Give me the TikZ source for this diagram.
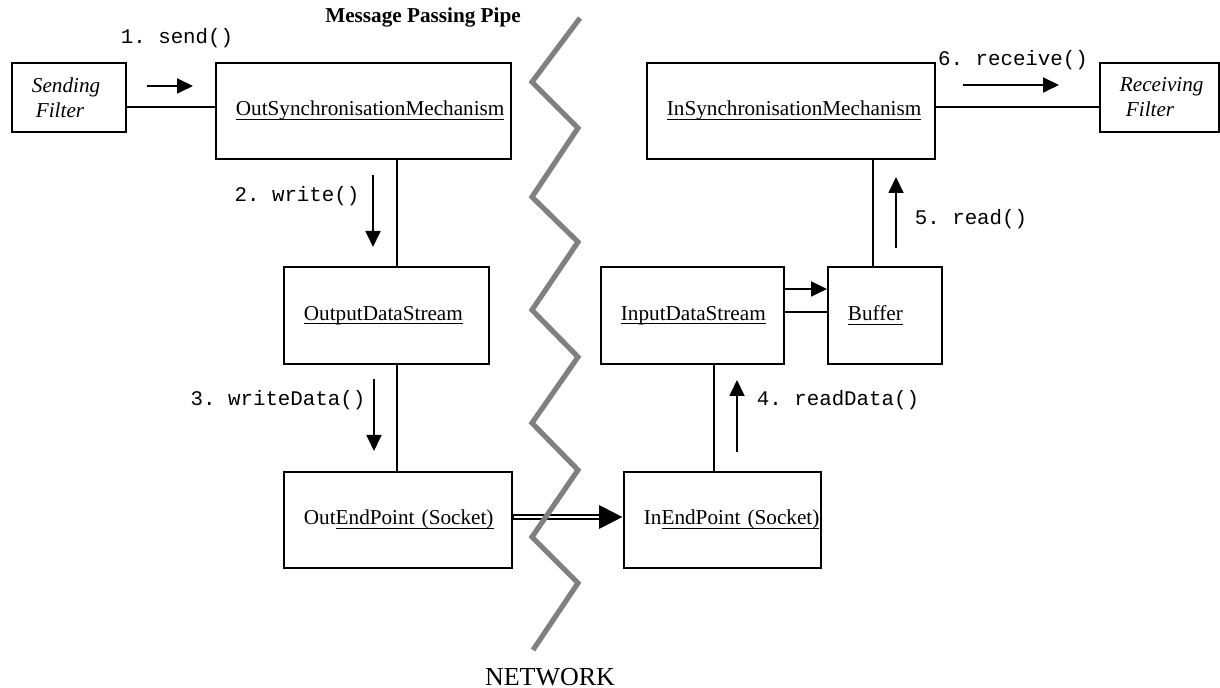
\documentclass[tikz,border=0pt]{standalone}
\usepackage{fontspec}
\setmainfont{Liberation Serif}
\setmonofont{Liberation Mono}
\usetikzlibrary{arrows.meta}
\newcommand{\uname}[1]{\setbox0\hbox{#1}\rlap{\rule[-1.9pt]{\wd0}{0.5pt}}\box0}
\begin{document}
\begin{tikzpicture}[x=0.5pt,y=-0.5pt,
  obj/.style={draw,line width=0.9pt,inner xsep=10pt,inner ysep=0pt,align=left,anchor=north west,font=\fontsize{10.6}{12.5}\selectfont},
  call/.style={anchor=base,font=\fontsize{10.4}{12}\selectfont\ttfamily},
  msg/.style={line width=0.9pt,-{Triangle[length=8pt,width=7.5pt]}},
  link/.style={line width=0.9pt},
  pipe/.style={line width=3.4pt,-{Triangle[length=12pt,width=11pt]}},
  pipegap/.style={draw=white,line width=1.4pt,shorten >=12pt,shorten <=0.6pt},
  net/.style={draw=gray,line width=2.6pt}]
\useasboundingbox (0,0) rectangle (1220,688);
\def \ylink{107};
\def \ybuf{312};
\def \yarr{289};
\def \ysock{517};
% objects
\node[obj,text width=37pt,minimum height=34.5pt] (sf) at (11,62) {\textit{Sending}\\\hspace*{2pt}\textit{Filter}};
\node[obj,text width=127.5pt,minimum height=48pt] (osm) at (215,62) {\uname{OutSynchronisationMechanism}};
\node[obj,text width=82.5pt,minimum height=48.5pt] (ods) at (283,266) {\uname{OutputDataStream}};
\node[obj,text width=94pt,minimum height=48pt] (oep) at (283,471) {\mbox{Out\uname{EndPoint (Socket)}}};
\node[obj,text width=124pt,minimum height=48pt] (ism) at (646,62) {\uname{InSynchronisationMechanism}};
\node[obj,text width=39.5pt,minimum height=34.5pt] (rf) at (1099,62) {\mbox{\textit{Receiving}}\\\hspace*{3pt}\textit{Filter}};
\node[obj,text width=71.5pt,minimum height=48.5pt] (ids) at (600,266) {\uname{InputDataStream}};
\node[obj,text width=37pt,minimum height=48.5pt] (buf) at (827,266) {\uname{Buffer}};
\node[obj,text width=78.5pt,minimum height=48pt] (iep) at (623,471) {\mbox{In\uname{EndPoint (Socket)}}};
% links
\draw[link] (sf.east |- 0,\ylink) -- (osm.west |- 0,\ylink);
\draw[link] (osm.south -| 397,0) -- (ods.north -| 397,0);
\draw[link] (ods.south -| 397,0) -- (oep.north -| 397,0);
\draw[link] (ism.east |- 0,\ylink) -- (rf.west |- 0,\ylink);
\draw[link] (ism.south -| 873,0) -- (buf.north -| 873,0);
\draw[link] (ids.east |- 0,\ybuf) -- (buf.west |- 0,\ybuf);
\draw[link] (ids.south -| 714,0) -- (iep.north -| 714,0);
\draw[msg] (ids.east |- 0,\yarr) -- (buf.west |- 0,\yarr);
\draw[pipe] (oep.east |- 0,\ysock) -- (iep.west |- 0,\ysock);
\draw[pipegap] (oep.east |- 0,\ysock) -- (iep.west |- 0,\ysock);
% messages
\coordinate (s1) at (147,86);
\coordinate (e1) at (193,86);
\coordinate (s2) at (373,175);
\coordinate (e2) at (373,247);
\coordinate (s3) at (374,379);
\coordinate (e3) at (374,451);
\coordinate (s4) at (737,452);
\coordinate (e4) at (737,380);
\coordinate (s5) at (896,248);
\coordinate (e5) at (896,177);
\coordinate (s6) at (963,85);
\coordinate (e6) at (1059,85);
\draw[msg] (s1) -- (e1);
\draw[msg] (s2) -- (e2);
\draw[msg] (s3) -- (e3);
\draw[msg] (s4) -- (e4);
\draw[msg] (s5) -- (e5);
\draw[msg] (s6) -- (e6);
\node[call] (l1) at (177,44) {1. send()};
\node[call] (l2) at (297,202) {2. write()};
\node[call] (l3) at (278,406) {3. writeData()};
\node[call] (l4) at (838,406) {4. readData()};
\node[call] (l5) at (971,225) {5. read()};
\node[call] (l6) at (1013,66) {6. receive()};
% network
\draw[net] (580,18) -- (532,82) -- (578,128) -- (532,197) -- (578,242) -- (532,310) -- (578,357) -- (532,423) -- (578,470) -- (532,537) -- (578,583) -- (533,650);
\node[anchor=base,font=\fontsize{10.6}{12.5}\selectfont\bfseries] (title) at (423,23) {Message Passing Pipe};
\node[anchor=base,font=\fontsize{13}{15}\selectfont] (network) at (550,685) {NETWORK};
\end{tikzpicture}
\end{document}
